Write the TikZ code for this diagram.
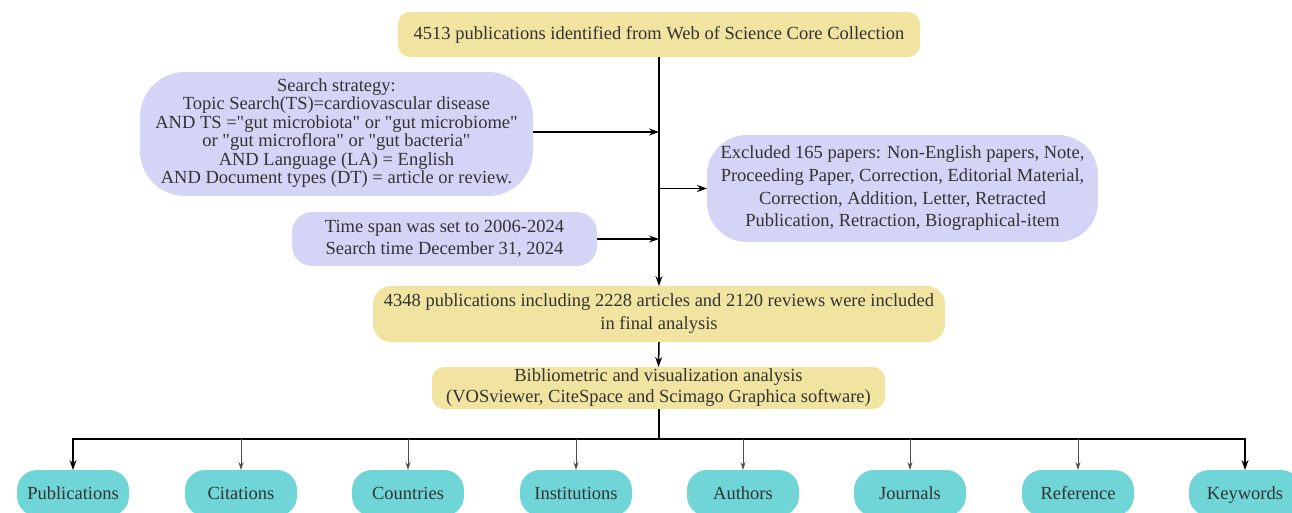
\documentclass[tikz,border=0pt]{standalone}
\usepackage{fontspec}
\setmainfont{Liberation Serif}[Ligatures=TeXOff]
\usetikzlibrary{arrows.meta}
\definecolor{ylw}{HTML}{F0E4A0}
\definecolor{lav}{HTML}{D4D4F7}
\definecolor{cyn}{HTML}{70D5D6}
\definecolor{txt}{HTML}{333333}
\begin{document}
\begin{tikzpicture}[x=1pt,y=1pt,
  every node/.style={inner sep=0pt, outer sep=0pt, text=txt, align=center, font=\fontsize{18.5}{18.4}\selectfont},
  ybox/.style={fill=ylw, rounded corners=12pt},
  lbox/.style={fill=lav},
  cbox/.style={fill=cyn, rounded corners=20pt, minimum width=112pt, minimum height=46pt, text height=13pt, text depth=0pt},
  mainarr/.style={line width=1.5pt, -{Stealth[length=10pt,width=7pt]}},
  mainline/.style={line width=1.5pt},
  thinarr/.style={line width=0.9pt, draw=black!70, -{Stealth[length=8pt,width=5pt]}}
]
\useasboundingbox (0,0) rectangle (1292,-512);
\clip (0,0) rectangle (1292,-512);

\node[ybox, minimum width=522pt, minimum height=45pt] (top) at (659,-34.5) {4513 publications identified from Web of Science Core Collection};
\node[lbox, rounded corners=45pt, minimum width=393pt, minimum height=124pt, text depth=6pt] (search) at (336.5,-134) {Search strategy:\\Topic Search(TS)=cardiovascular disease\\AND TS ="gut microbiota" or "gut microbiome"\\or "gut microflora" or "gut bacteria"\\AND Language (LA) = English\\AND Document types (DT) = article or review.};
\node[lbox, rounded corners=20pt, minimum width=305pt, minimum height=54pt, font=\fontsize{18.5}{22}\selectfont] (time) at (444.5,-239) {Time span was set to 2006-2024\\Search time December 31, 2024};
\node[lbox, rounded corners=40pt, minimum width=391pt, minimum height=107pt, font=\fontsize{18.5}{22.7}\selectfont] (excl) at (902.5,-188.5) {Excluded 165 papers: Non-English papers, Note,\\Proceeding Paper, Correction, Editorial Material,\\Correction, Addition, Letter, Retracted\\Publication, Retraction, Biographical-item};
\node[ybox, rounded corners=18pt, minimum width=572pt, minimum height=56pt, font=\fontsize{18.5}{23}\selectfont] (final) at (659,-314) {4348 publications including 2228 articles and 2120 reviews were included\\in final analysis};
\node[ybox, minimum width=453pt, minimum height=42pt, font=\fontsize{18.5}{21}\selectfont] (biblio) at (658.5,-388) {Bibliometric and visualization analysis\\(VOSviewer, CiteSpace and Scimago Graphica software)};

\node[cbox] (pub) at (73,-493) {Publications};
\node[cbox] (cit) at (241,-493) {Citations};
\node[cbox] (cou) at (408,-493) {Countries};
\node[cbox] (ins) at (576,-493) {Institutions};
\node[cbox] (aut) at (743,-493) {Authors};
\node[cbox] (jou) at (910,-493) {Journals};
\node[cbox] (ref) at (1078,-493) {Reference};
\node[cbox] (key) at (1245,-493) {Keywords};

\draw[mainarr] (top.south) -- (final.north);
\draw[mainarr] (search.east |- 0,-132) -- (top.south |- 0,-132);
\draw[mainarr] (time.east) -- (time.east -| top.south);
\draw[mainarr] (top.south |- excl.west) -- (excl.west);
\draw[mainarr] (final.south) -- (biblio.north);

\coordinate (hub) at (659,-439);
\draw[mainline] (biblio.south -| hub) -- (hub);
\draw[mainarr] (hub) -| (pub.north);
\draw[mainarr] (hub) -| (key.north);
\foreach \n in {cit,cou,ins,aut,jou,ref}
  \draw[thinarr] (\n.north |- hub) -- (\n.north);
\end{tikzpicture}
\end{document}
